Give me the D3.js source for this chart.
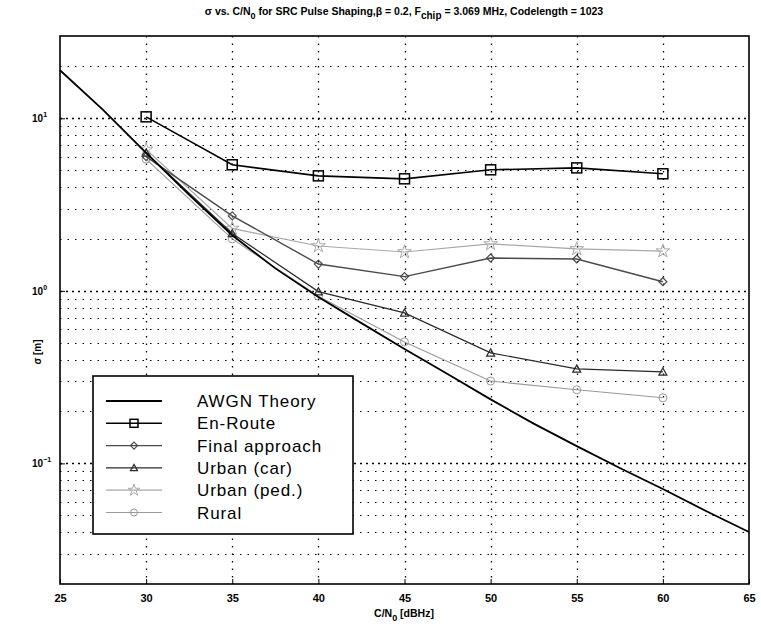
<!DOCTYPE html>
<html>
<head>
<meta charset="utf-8">
<script src="https://cdn.jsdelivr.net/npm/d3@7"></script>
<style>
  body { margin: 0; background: #fff; }
  svg { display: block; font-family: "Liberation Sans", Arial, sans-serif; }
</style>
</head>
<body>
<div id="chart"></div>
<script>
// ----- data -----
const cn0 = [30, 35, 40, 45, 50, 55, 60];
const xTicks = [25, 30, 35, 40, 45, 50, 55, 60, 65];
const yMajor = [0.1, 1, 10];

// AWGN theory curve (sampled every 2.5 dB)
const awgnX = [25, 27.5, 30, 32.5, 35, 37.5, 40, 42.5, 45, 47.5, 50, 52.5, 55, 57.5, 60, 62.5, 65];
const awgnY = [19, 11.2, 6.3, 3.6, 2.1, 1.35, 0.92, 0.65, 0.46, 0.33, 0.235, 0.17, 0.126, 0.094, 0.071, 0.053, 0.04];

const enRoute       = [10.2, 5.38, 4.64, 4.46, 5.03, 5.16, 4.77];
const finalApproach = [6.0, 2.72, 1.43, 1.21, 1.55, 1.53, 1.13];
const urbanCar      = [6.3, 2.15, 0.99, 0.745, 0.437, 0.353, 0.339];
const urbanPed      = [6.6, 2.3, 1.82, 1.68, 1.87, 1.75, 1.70];
const rural         = [5.8, 2.0, 0.93, 0.506, 0.30, 0.267, 0.24];

const legendNames = ["AWGN Theory", "En-Route", "Final approach", "Urban (car)", "Urban (ped.)", "Rural"];

// ----- layout -----
const width = 761, height = 627;
const margins = { top: 36, right: 12, bottom: 43, left: 60 };

const svg = d3.select("#chart").append("svg")
  .attr("width", width)
  .attr("height", height);

const x = d3.scaleLinear()
  .domain([25, 65])
  .range([margins.left, width - margins.right]);

const y = d3.scaleLog()
  .domain([0.02, 30])
  .range([height - margins.bottom, margins.top]);

// minor grid values (2..9 per decade) inside the domain
const yMinor = [];
[0.01, 0.1, 1, 10].forEach(d => {
  for (let k = 2; k <= 9; k++) {
    const v = d * k;
    if (v > 0.02 && v < 30) yMinor.push(v);
  }
});

// ----- grid -----
const grid = svg.append("g").attr("stroke", "#000").attr("stroke-width", 1);

grid.selectAll("line.minor")
  .data(yMinor)
  .join("line")
    .attr("x1", margins.left).attr("x2", width - margins.right)
    .attr("y1", d => Math.round(y(d)) + 0.5).attr("y2", d => Math.round(y(d)) + 0.5)
    .attr("stroke-dasharray", "1.5,6");

grid.selectAll("line.major")
  .data(yMajor)
  .join("line")
    .attr("x1", margins.left).attr("x2", width - margins.right)
    .attr("y1", d => Math.round(y(d)) + 0.5).attr("y2", d => Math.round(y(d)) + 0.5)
    .attr("stroke-width", 1.5)
    .attr("stroke-dasharray", "2,4");

grid.selectAll("line.vert")
  .data(xTicks.slice(1, -1))
  .join("line")
    .attr("x1", d => Math.round(x(d)) + 0.5).attr("x2", d => Math.round(x(d)) + 0.5)
    .attr("y1", margins.top).attr("y2", height - margins.bottom)
    .attr("stroke-width", 1.3)
    .attr("stroke-dasharray", "1.5,6");

// ----- axes -----
const xAxis = d3.axisBottom(x).tickValues(xTicks).tickSize(-5).tickPadding(10).tickFormat(d3.format("d"));
svg.append("g")
  .attr("transform", `translate(0,${height - margins.bottom})`)
  .call(xAxis)
  .call(g => g.select(".domain").remove())
  .selectAll("text")
    .style("font-size", "11px")
    .style("font-weight", "bold")
    .attr("fill", "#000");

const yAxis = d3.axisLeft(y).tickValues(yMajor).tickSize(-5).tickFormat("");
svg.append("g")
  .attr("transform", `translate(${margins.left},0)`)
  .call(yAxis)
  .call(g => g.select(".domain").remove());

// y tick labels with superscripts
const yLab = svg.append("g");
yMajor.forEach(v => {
  const p = Math.round(Math.log10(v));
  const t = yLab.append("text")
    .attr("x", 32)
    .attr("y", y(v) + 4)
    .style("font-size", "10px")
    .style("font-weight", "bold");
  t.append("tspan").text("10");
  t.append("tspan").attr("dy", -5).style("font-size", "7px").text(p < 0 ? "\u2212" + (-p) : String(p));
});

// frame
svg.append("rect")
  .attr("x", margins.left).attr("y", margins.top)
  .attr("width", width - margins.left - margins.right)
  .attr("height", height - margins.top - margins.bottom)
  .attr("fill", "none").attr("stroke", "#000").attr("stroke-width", 1.6);

// ----- series -----
const line = d3.line().x(d => x(d[0])).y(d => y(d[1]));

const series = [
  { name: legendNames[1], values: enRoute, color: "#000", width: 1.6, symbol: "square", size: 10 },
  { name: legendNames[2], values: finalApproach, color: "#4a4a4a", width: 1.4, symbol: "diamond", size: 8 },
  { name: legendNames[3], values: urbanCar, color: "#2a2a2a", width: 1.2, symbol: "triangle", size: 8 },
  { name: legendNames[4], values: urbanPed, color: "#a8a8a8", width: 1.2, symbol: "star", size: 8 },
  { name: legendNames[5], values: rural, color: "#9a9a9a", width: 1.1, symbol: "circle", size: 8 }
];

function marker(g, sym, s, color) {
  const h = s / 2;
  if (sym === "square") {
    g.append("rect").attr("x", -h).attr("y", -h).attr("width", s).attr("height", s)
      .attr("fill", "none").attr("stroke", color).attr("stroke-width", 1.5);
  } else if (sym === "diamond") {
    g.append("path").attr("d", `M0,${-h}L${h},0L0,${h}L${-h},0Z`)
      .attr("fill", "none").attr("stroke", color).attr("stroke-width", 1.2);
  } else if (sym === "triangle") {
    g.append("path").attr("d", `M0,${-h}L${h},${h * 0.8}L${-h},${h * 0.8}Z`)
      .attr("fill", "none").attr("stroke", color).attr("stroke-width", 1.2);
  } else if (sym === "star") {
    g.append("path").attr("d", d3.symbol().type(d3.symbolStar).size(s * s * 0.9)())
      .attr("fill", "none").attr("stroke", color).attr("stroke-width", 1);
  } else {
    g.append("circle").attr("r", h).attr("fill", "none").attr("stroke", color).attr("stroke-width", 1);
  }
}

// draw lighter series first so dark ones stay on top
[...series].reverse().forEach(s => {
  const pts = cn0.map((c, i) => [c, s.values[i]]);
  svg.append("path")
    .datum(pts)
    .attr("fill", "none")
    .attr("stroke", s.color)
    .attr("stroke-width", s.width)
    .attr("d", line);
  svg.append("g").selectAll("g")
    .data(pts)
    .join("g")
      .attr("transform", d => `translate(${x(d[0])},${y(d[1])})`)
      .each(function () { marker(d3.select(this), s.symbol, s.size, s.color); });
});

// AWGN theory
svg.append("path")
  .datum(awgnX.map((c, i) => [c, awgnY[i]]))
  .attr("fill", "none")
  .attr("stroke", "#000")
  .attr("stroke-width", 1.8)
  .attr("d", line);

// ----- legend -----
const legend = svg.append("g");
legend.append("rect")
  .attr("x", 93).attr("y", 376).attr("width", 260).attr("height", 158)
  .attr("fill", "#fff").attr("stroke", "#000").attr("stroke-width", 1.6);

const legendItems = [{ name: legendNames[0], color: "#000", width: 2, symbol: null }].concat(series);
legendItems.forEach((s, i) => {
  const g = legend.append("g").attr("transform", `translate(0,${401 + i * 22.3})`);
  g.append("line").attr("x1", 106).attr("x2", 162).attr("y1", 0).attr("y2", 0)
    .attr("stroke", s.color).attr("stroke-width", s.width);
  if (s.symbol) {
    const m = g.append("g").attr("transform", "translate(134,0)");
    marker(m, s.symbol, s.symbol === "square" ? 8 : 7, s.color);
  }
  g.append("text")
    .attr("x", 197).attr("y", 0).attr("dy", "0.36em")
    .style("font-size", "17px")
    .style("letter-spacing", "0.9px")
    .text(s.name);
});

// ----- title and labels -----
const title = svg.append("text")
  .attr("x", 404).attr("y", 15)
  .attr("text-anchor", "middle")
  .style("font-size", "10.5px")
  .style("font-weight", "bold");
title.append("tspan").text("\u03c3 vs. C/N");
title.append("tspan").attr("dy", 4).style("font-size", "9px").text("0");
title.append("tspan").attr("dy", -4).text(" for SRC Pulse Shaping,\u03b2 = 0.2, F");
title.append("tspan").attr("dy", 4).style("font-size", "10px").text("chip");
title.append("tspan").attr("dy", -4).text(" = 3.069 MHz, Codelength = 1023");

const xl = svg.append("text")
  .attr("x", 404).attr("y", 617)
  .attr("text-anchor", "middle")
  .style("font-size", "10.5px")
  .style("font-weight", "bold");
xl.append("tspan").text("C/N");
xl.append("tspan").attr("dy", 4).style("font-size", "9px").text("0");
xl.append("tspan").attr("dy", -4).text(" [dBHz]");

svg.append("text")
  .attr("transform", "translate(41,352) rotate(-90)")
  .attr("text-anchor", "middle")
  .style("font-size", "10px")
  .style("font-weight", "bold")
  .text("\u03c3 [m]");
</script>
</body>
</html>
